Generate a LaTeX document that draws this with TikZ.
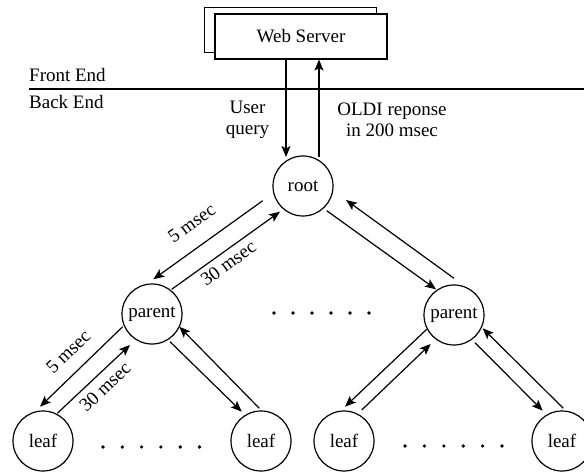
\documentclass[tikz,border=0pt]{standalone}
\usepackage{fontspec}
\setmainfont{Liberation Serif}
\usetikzlibrary{arrows.meta,calc}

\tikzset{
  base/.style={line width=1.2pt},
  txt/.style={inner sep=0pt,font=\fontsize{19}{21}\selectfont},
  vertex/.style={base,draw,circle,minimum size=60pt,inner sep=0pt,font=\fontsize{19}{21}\selectfont},
  serverbox/.style={base,draw,fill=white,minimum width=172pt,minimum height=45pt,inner sep=0pt,font=\fontsize{19}{21}\selectfont},
  arr/.style={base,-{Stealth[length=11pt,width=9pt,inset=2.5pt]}},
  dotmark/.style={fill=black}
}

\begin{document}
\begin{tikzpicture}[x=1pt,y=-1pt]
\useasboundingbox (0,0) rectangle (584,473);

% web server (stacked boxes)
\node[serverbox] (ws2) at (290.5,30) {};
\node[serverbox] (ws) at (301,36.5) {Web Server};

% front end / back end separator
\coordinate (sepL) at (29,89);
\coordinate (sepR) at (584,89);
\draw[base] (sepL) -- (sepR);
\node[txt,anchor=west] (fe) at (29,75) {Front End};
\node[txt,anchor=west] (be) at (29,102.5) {Back End};

% tree nodes
\node[vertex] (root) at (303,186) {root};
\node[vertex] (pl) at (152,314) {parent};
\node[vertex] (pr) at (454,315) {parent};
\node[vertex] (l1) at (43,441) {leaf};
\node[vertex] (l2) at (261,441) {leaf};
\node[vertex] (l3) at (344,441) {leaf};
\node[vertex] (l4) at (562,441) {leaf};

% query and response between web server and root
\draw[arr] ([xshift=-15pt]ws.south) -- ($(root)+(-17,-29)$);
\draw[arr] ($(root)+(16,-29)$) -- ([xshift=18pt]ws.south);
\node[txt,align=center] (uq) at (247.5,120) {User\\query};
\node[txt,align=center] (or) at (392,120) {OLDI reponse\\in 200 msec};

% root <-> left parent
\draw[arr] ($(root)+(-40.3,14.7)$) -- ($(pl)+(1.3,-34.7)$);
\draw[arr] ($(pl)+(19.7,-24.7)$) -- ($(root)+(-23,25.7)$);
% root <-> right parent
\draw[arr] ($(root)+(23.7,24.7)$) -- ($(pr)+(-18,-25.7)$);
\draw[arr] ($(pr)+(0,-36.7)$) -- ($(root)+(43,14)$);
% left parent <-> leaves
\draw[arr] ($(pl)+(-29.3,12.7)$) -- ($(l1)+(-3,-34.3)$);
\draw[arr] ($(l1)+(14.3,-27.7)$) -- ($(pl)+(-22,31)$);
\draw[arr] ($(pl)+(18,27.7)$) -- ($(l2)+(-19.3,-29.3)$);
\draw[arr] ($(l2)+(-1.7,-32.7)$) -- ($(pl)+(27.3,12.7)$);
% right parent <-> leaves
\draw[arr] ($(pr)+(-27.3,14.3)$) -- ($(l3)+(1,-34.3)$);
\draw[arr] ($(l3)+(17.7,-31)$) -- ($(pr)+(-23.3,29)$);
\draw[arr] ($(pr)+(21,27.7)$) -- ($(l4)+(-19.3,-30.3)$);
\draw[arr] ($(l4)+(1.3,-32.7)$) -- ($(pr)+(28.7,13.3)$);

% latency labels
\node[txt,rotate=35.7] (t1) at (191.7,223.3) {5 msec};
\node[txt,rotate=35.7] (t2) at (228.3,263.3) {30 msec};
\node[txt,rotate=44] (t3) at (68.3,351.7) {5 msec};
\node[txt,rotate=44] (t4) at (105,386.7) {30 msec};

% ellipses
\foreach \k in {0,...,5} {
  \fill[dotmark] (274+19*\k,313) circle (1.8pt);
  \fill[dotmark] (103+19.3*\k,447) circle (1.8pt);
  \fill[dotmark] (405+19.4*\k,446) circle (1.8pt);
}
\end{tikzpicture}
\end{document}
